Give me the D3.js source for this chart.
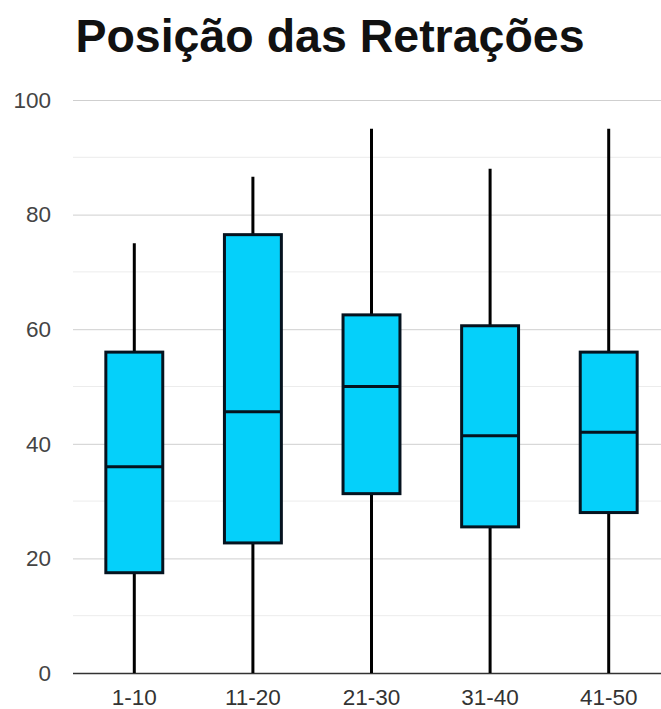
<!DOCTYPE html>
<html>
<head>
<meta charset="utf-8">
<script src="https://cdn.jsdelivr.net/npm/d3@7"></script>
<style>
  html, body { margin: 0; padding: 0; background: #fff; }
  svg { display: block; font-family: "Liberation Sans", Arial, sans-serif; }
</style>
</head>
<body>
<svg id="chart" width="661" height="709"></svg>
<script>
// Retraction position by range: five-number summaries per group
const categories = ["1-10", "11-20", "21-30", "31-40", "41-50"];
const whiskerLow = [0, 0, 0, 0, 0];
const quartile1  = [17.5, 22.7, 31.3, 25.5, 28.0];
const medians    = [36.0, 45.6, 50.0, 41.4, 42.0];
const quartile3  = [56.0, 76.5, 62.5, 60.6, 56.0];
const whiskerHigh = [75, 86.6, 95, 88, 95];
const yTicks = [0, 20, 40, 60, 80, 100];
const yMinorTicks = [10, 30, 50, 70, 90];

const rows = categories.map((c, i) => ({
  cat: c, lo: whiskerLow[i], q1: quartile1[i], med: medians[i], q3: quartile3[i], hi: whiskerHigh[i]
}));

const svg = d3.select("#chart");
const plot = { left: 75, right: 668, top: 100, bottom: 673 };

const x = d3.scaleBand().domain(categories).range([plot.left, plot.right]).paddingInner(0.52).paddingOuter(0.26);
const y = d3.scaleLinear().domain([0, 100]).range([plot.bottom, plot.top]);

// Title
svg.append("text")
  .attr("x", 330).attr("y", 52)
  .attr("text-anchor", "middle")
  .style("font-size", "46.5px").attr("font-weight", "bold")
  .attr("fill", "#111")
  .text("Posição das Retrações");

// Minor gridlines
svg.append("g").selectAll("line").data(yMinorTicks).join("line")
  .attr("x1", 73).attr("x2", 661)
  .attr("y1", d => y(d)).attr("y2", d => y(d))
  .attr("stroke", "#ececec").attr("stroke-width", 1);

// Major gridlines and y labels via axis
const yAxis = svg.append("g")
  .attr("transform", `translate(73,0)`)
  .call(d3.axisLeft(y).tickValues(yTicks).tickSize(-588).tickPadding(22));
yAxis.select(".domain").remove();
yAxis.attr("font-size", null).attr("font-family", null);
yAxis.selectAll(".tick line").attr("stroke", d => d === 0 ? "#333" : "#cfcfcf").attr("stroke-width", d => d === 0 ? 1.5 : 1);
yAxis.selectAll(".tick text")
  .style("font-size", "22.5px").attr("fill", "#444");

// X labels
const xAxis = svg.append("g")
  .attr("transform", `translate(0,${plot.bottom})`)
  .call(d3.axisBottom(x).tickSize(0).tickPadding(16));
xAxis.select(".domain").remove();
xAxis.attr("font-size", null).attr("font-family", null);
xAxis.selectAll(".tick text")
  .style("font-size", "22.5px").attr("fill", "#333");

// Boxes
const g = svg.append("g").selectAll("g").data(rows).join("g");
const cx = d => x(d.cat) + x.bandwidth() / 2;

g.append("line")
  .attr("x1", cx).attr("x2", cx)
  .attr("y1", d => y(d.hi)).attr("y2", d => y(d.lo))
  .attr("stroke", "#000").attr("stroke-width", 3);

g.append("rect")
  .attr("x", d => x(d.cat)).attr("width", x.bandwidth())
  .attr("y", d => y(d.q3)).attr("height", d => y(d.q1) - y(d.q3))
  .attr("fill", "#05d0fa").attr("stroke", "#05131f").attr("stroke-width", 3);

g.append("line")
  .attr("x1", d => x(d.cat)).attr("x2", d => x(d.cat) + x.bandwidth())
  .attr("y1", d => y(d.med)).attr("y2", d => y(d.med))
  .attr("stroke", "#05131f").attr("stroke-width", 3);
</script>
</body>
</html>
